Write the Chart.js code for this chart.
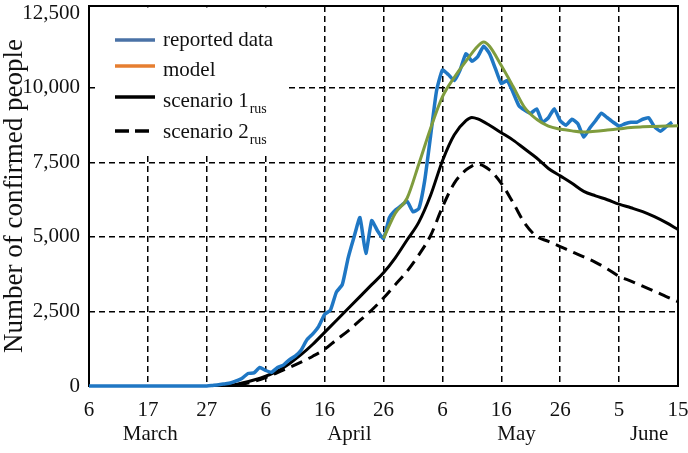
<!DOCTYPE html>
<html lang="en">
<head>
<meta charset="UTF-8">
<title>Number of confirmed people</title>
<script src="https://cdn.jsdelivr.net/npm/chart.js@4.4.0/dist/chart.umd.min.js"></script>
<style>
  html, body { margin: 0; padding: 0; background: #fff; }
</style>
</head>
<body>
<canvas id="chart" width="688" height="453"></canvas>
<script>
// x = days counted from 6 March (the source axis puts one tick every 10 units)
const xTickPos = [0, 10, 20, 30, 40, 50, 60, 70, 80, 90, 100];
const xTickLabels = ['6', '17', '27', '6', '16', '26', '6', '16', '26', '5', '15'];
const monthPos = [10.4, 44.2, 72.6, 95.1];
const monthLabels = ['March', 'April', 'May', 'June'];
const yTickPos = [0, 2500, 5000, 7500, 10000, 12500];

const reportedDays = [0, 2, 4, 6, 8, 10, 12, 14, 16, 18, 20, 21, 22, 23, 24, 25, 26, 27, 28, 29,
  30, 31, 32, 33, 34, 35, 36, 37, 38, 39, 40, 41, 42, 43, 44, 45, 46, 47, 48, 49,
  50, 51, 52, 53, 54, 55, 56, 57, 58, 59, 60, 61, 62, 63, 64, 65, 66, 67, 68, 69,
  70, 71, 72, 73, 74, 75, 76, 77, 78, 79, 80, 81, 82, 83, 84, 85, 86, 87, 88, 89,
  90, 91, 92, 93, 94, 95, 96, 97, 98, 99];
const reportedValues = [0, 0, 0, 0, 0, 0, 0, 0, 0, 0, 0, 20, 40, 70, 100, 170, 260, 420, 440, 620,
  520, 460, 620, 700, 880, 1000, 1200, 1550, 1750, 2000, 2400, 2550, 3150, 3400, 4300, 5000, 5650, 4450, 5550, 5200,
  4950, 5650, 5900, 6050, 6200, 5850, 5950, 6900, 8400, 9900, 10600, 10450, 10250, 10600, 11150, 10900, 11050, 11400, 11150, 10650,
  10150, 10250, 9850, 9400, 9250, 9150, 9300, 8850, 9000, 9300, 8900, 8750, 8950, 8800, 8350, 8650, 8900, 9150, 9000, 8850,
  8720, 8800, 8850, 8850, 8950, 9000, 8700, 8550, 8700, 8850];

const modelDays = [50, 52, 54, 56, 58, 60, 62, 64, 66, 67, 68, 70, 72, 74, 76, 78, 80, 82, 84, 86, 88, 90, 92, 94, 96, 98, 100];
const modelValues = [4950, 5800, 6300, 7450, 8650, 9700, 10350, 10900, 11400, 11540, 11400, 10750, 10050, 9330, 8950, 8720, 8620, 8560, 8520, 8550, 8590, 8630, 8670, 8700, 8710, 8720, 8730];

const scenarioDays = [22, 24, 26, 28, 30, 32, 34, 36, 38, 40, 42, 44, 46, 48, 50, 52, 54, 56, 58, 60,
  62, 64, 65, 66, 68, 70, 72, 74, 76, 78, 80, 82, 84, 86, 88, 90, 92, 94, 96, 98, 100];
const scenario1Values = [0, 20, 100, 200, 330, 500, 750, 1050, 1400, 1800, 2200, 2600, 3000, 3400, 3800, 4300, 4900, 5500, 6400, 7550,
  8420, 8900, 9010, 8960, 8750, 8500, 8250, 7950, 7650, 7300, 7050, 6800, 6530, 6380, 6250, 6100, 5980, 5850, 5680, 5480, 5250];
const scenario2Values = [0, 15, 60, 150, 280, 450, 620, 800, 1000, 1230, 1550, 1850, 2200, 2550, 2950, 3400, 3850, 4400, 5050, 6000,
  6800, 7250, 7380, 7440, 7250, 6800, 6150, 5450, 5020, 4850, 4680, 4500, 4330, 4150, 3930, 3680, 3520, 3350, 3180, 3000, 2830];

const toPoints = (xs, ys) => xs.map((x, i) => ({ x: x, y: ys[i] }));

const SERIF = '"Liberation Serif", "Times New Roman", serif';
Chart.defaults.font.family = SERIF;
Chart.defaults.color = '#111';

const legendItems = [
  { text: 'reported data', sub: '', color: '#4a72a6', dash: [], lineY: 40, textY: 46 },
  { text: 'model', sub: '', color: '#e67e30', dash: [], lineY: 66, textY: 76 },
  { text: 'scenario 1', sub: 'rus', color: '#000', dash: [], lineY: 97, textY: 107 },
  { text: 'scenario 2', sub: 'rus', color: '#000', dash: [14, 6], lineY: 131, textY: 138 }
];

// box round the plot, and the legend that sits inside it
const framePlugin = {
  id: 'frame',
  beforeDatasetsDraw(chart) {
    const { ctx, chartArea: a } = chart;
    ctx.save();
    ctx.strokeStyle = '#000';
    ctx.lineWidth = 2;
    ctx.strokeRect(a.left, a.top, a.right - a.left, a.bottom - a.top);
    ctx.restore();
  },
  afterDatasetsDraw(chart) {
    const { ctx, chartArea: a } = chart;
    ctx.save();
    ctx.fillStyle = '#fff';
    ctx.fillRect(a.left + 8, a.top + 1.5, 287 - a.left - 8, 153 - a.top - 1.5);
    legendItems.forEach(it => {
      ctx.strokeStyle = it.color;
      ctx.lineWidth = 3.5;
      ctx.setLineDash(it.dash);
      ctx.beginPath();
      ctx.moveTo(115, it.lineY);
      ctx.lineTo(155, it.lineY);
      ctx.stroke();
      ctx.setLineDash([]);
      ctx.fillStyle = '#111';
      ctx.textBaseline = 'alphabetic';
      ctx.font = '21px ' + SERIF;
      ctx.fillText(it.text, 163, it.textY);
      if (it.sub) {
        const w = ctx.measureText(it.text).width;
        ctx.font = '14px ' + SERIF;
        ctx.fillText(it.sub, 163 + w + 1, it.textY + 6);
      }
    });
    ctx.restore();
  }
};

const gridDash = [6, 4];

new Chart(document.getElementById('chart'), {
  type: 'line',
  data: {
    datasets: [
      {
        label: 'model',
        data: toPoints(modelDays, modelValues),
        borderColor: '#7f9c3d',
        borderWidth: 3,
        cubicInterpolationMode: 'monotone',
        order: 0
      },
      {
        label: 'reported data',
        data: toPoints(reportedDays, reportedValues),
        borderColor: '#1f77c4',
        borderWidth: 3.5,
        tension: 0.15,
        clip: false,
        order: 1
      },
      {
        label: 'scenario 1',
        data: toPoints(scenarioDays, scenario1Values),
        borderColor: '#000',
        borderWidth: 3,
        cubicInterpolationMode: 'monotone',
        order: 2
      },
      {
        label: 'scenario 2',
        data: toPoints(scenarioDays, scenario2Values),
        borderColor: '#000',
        borderWidth: 3,
        borderDash: [12, 7],
        cubicInterpolationMode: 'monotone',
        order: 3
      }
    ]
  },
  options: {
    responsive: false,
    animation: false,
    layout: { padding: { top: 6, right: 10, bottom: 0, left: 0 } },
    elements: { point: { radius: 0 } },
    plugins: { legend: { display: false }, tooltip: { enabled: false } },
    scales: {
      x: {
        type: 'linear',
        min: 0,
        max: 100,
        weight: 0,
        afterBuildTicks: s => { s.ticks = xTickPos.map(v => ({ value: v })); },
        afterFit: s => { s.height = 36; s.paddingLeft = 0; s.paddingRight = 0; },
        ticks: {
          autoSkip: false,
          maxRotation: 0,
          padding: 12,
          font: { size: 21 },
          callback: (v, i) => xTickLabels[i]
        },
        grid: {
          drawTicks: false,
          lineWidth: 1.5,
          color: c => (c.tick && c.tick.value > 0 && c.tick.value < 100) ? '#000' : 'rgba(0,0,0,0)'
        },
        border: { display: false, dash: gridDash }
      },
      xMonth: {
        type: 'linear',
        position: 'bottom',
        min: 0,
        max: 100,
        weight: 1,
        afterBuildTicks: s => { s.ticks = monthPos.map(v => ({ value: v })); },
        afterFit: s => { s.height = 31; s.paddingLeft = 0; s.paddingRight = 0; },
        ticks: {
          autoSkip: false,
          maxRotation: 0,
          padding: 0,
          font: { size: 21 },
          callback: (v, i) => monthLabels[i]
        },
        grid: { display: false, drawTicks: false },
        border: { display: false }
      },
      y: {
        min: 0,
        max: 12750,
        afterBuildTicks: s => { s.ticks = yTickPos.map(v => ({ value: v })); },
        afterFit: s => { s.width = 89; s.paddingTop = 0; s.paddingBottom = 0; },
        ticks: {
          padding: 9,
          font: { size: 21 },
          callback: v => v.toLocaleString('en-US')
        },
        grid: {
          drawTicks: false,
          lineWidth: 1.5,
          color: c => (c.tick && c.tick.value > 0 && c.tick.value < 12500) ? '#000' : 'rgba(0,0,0,0)'
        },
        border: { display: false, dash: gridDash },
        title: {
          display: true,
          text: 'Number of confirmed people',
          font: { size: 27 },
          padding: { top: -1, bottom: 0 },
          color: '#111'
        }
      }
    }
  },
  plugins: [framePlugin]
});
</script>
</body>
</html>
